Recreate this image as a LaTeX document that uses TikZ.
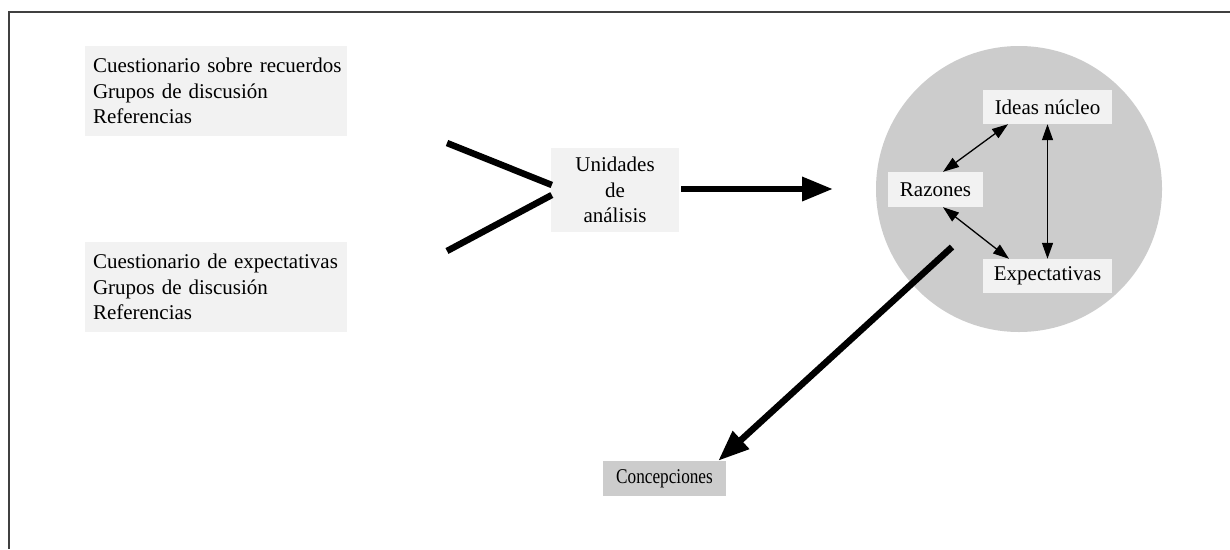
\documentclass[tikz,border=0pt]{standalone}
\usepackage{fontspec}
\setmainfont{Liberation Serif}
\usepackage{graphicx}
\usetikzlibrary{arrows.meta,calc}
\begin{document}
\begin{tikzpicture}[x=1pt,y=-1pt,
  every node/.style={font=\fontsize{21}{25.6}\selectfont, inner sep=0pt},
  srcbox/.style={fill=black!5, text width=246pt, inner xsep=8pt, align=left, minimum height=90pt},
  lightbox/.style={fill=black!5, minimum width=129pt, minimum height=34pt},
  bigline/.style={line width=6.5pt},
  bigarrow/.style={line width=6.5pt, -{Triangle[length=31pt,width=23pt]}},
  thinarrow/.style={line width=1.3pt, {Triangle[length=16pt,width=11pt]}-{Triangle[length=16pt,width=11pt]}}
]
\useasboundingbox (0,0) rectangle (1230,549);
\fill[white] (0,0) rectangle (1230,549);
\draw[line width=1.5pt, black!75] (1230,12) -- (9,12) -- (9,549);

\node[srcbox] (s1) at (216,91) {\mbox{Cuestionario sobre recuerdos}\\\mbox{Grupos de discusión}\\Referencias};
\node[srcbox] (s2) at (216,287) {\mbox{Cuestionario de expectativas}\\\mbox{Grupos de discusión}\\Referencias};
\node[fill=black!5, minimum width=128pt, minimum height=84pt, align=center] (u) at (615,190) {Unidades\\de\\análisis};
\node[circle, fill=black!20, minimum size=286pt] (k) at (1019,189) {};
\node[lightbox] (i) at (1047.5,107) {Ideas núcleo};
\node[lightbox, minimum width=95pt, minimum height=35pt] (r) at (935.5,189.5) {Razones};
\node[lightbox] (e) at (1047.5,276) {Expectativas};
\node[fill=black!20, minimum width=123pt, minimum height=35pt] (c) at (664.5,478.5) {\scalebox{0.82}[1]{Concepciones}};

\coordinate (a1) at (447,143);
\coordinate (a2) at (447,251);
\coordinate (t) at (833,189);
\coordinate (d) at (952,247);

\draw[bigline] (a1) -- ($(u.west)+(1,-5)$);
\draw[bigline] (a2) -- ($(u.west)+(1,5)$);
\draw[bigarrow] ($(u.east)+(2,-1)$) -- (t);
\draw[bigarrow] (d) -- ($(c.north east)+(-8,0)$);

\draw[thinarrow] ($(r.north)+(7.5,0)$) -- ($(i.south)+(-39.5,0)$);
\draw[thinarrow] (i.south) -- (e.north);
\draw[thinarrow] ($(r.south)+(7.5,0)$) -- ($(e.north)+(-38.5,0)$);
\end{tikzpicture}
\end{document}
